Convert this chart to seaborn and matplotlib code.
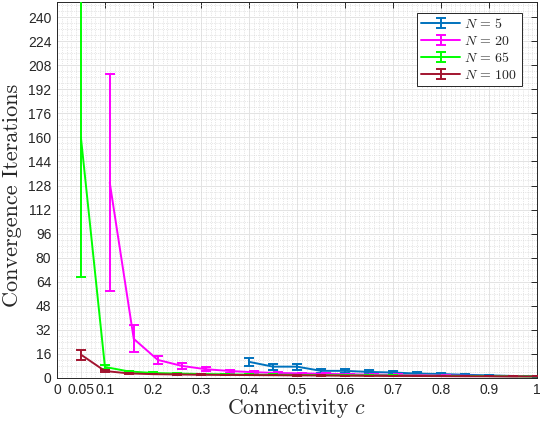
import numpy as np
import pandas as pd
import matplotlib
matplotlib.use("Agg")
import matplotlib.pyplot as plt
import seaborn as sns
from matplotlib.ticker import MultipleLocator
from matplotlib.container import ErrorbarContainer
from matplotlib.legend_handler import HandlerErrorbar

# connectivity values per network size
c5 = [0.40, 0.45, 0.50, 0.55, 0.60, 0.65, 0.70, 0.75, 0.80, 0.85, 0.90, 0.95, 1.00]
c20 = [0.11, 0.16, 0.21, 0.26, 0.31, 0.36, 0.41, 0.46, 0.51, 0.56, 0.61, 0.66,
       0.71, 0.76, 0.81, 0.86, 0.91, 0.96]
c65 = [0.05, 0.10, 0.15, 0.20, 0.25, 0.30, 0.35, 0.40, 0.45, 0.50, 0.55, 0.60,
       0.65, 0.70, 0.75, 0.80, 0.85, 0.90, 0.95, 1.00]
c100 = list(c65)

# mean convergence iterations and error half-widths
mean5 = [10.7, 7.5, 7.5, 4.7, 4.7, 4.0, 3.6, 2.9, 2.6, 2.1, 1.7, 1.3, 1.0]
err5 = [2.8, 2.0, 2.0, 1.4, 1.4, 1.0, 1.0, 0.8, 0.7, 0.6, 0.5, 0.3, 0.1]

mean20 = [130, 26, 12, 8.0, 5.8, 4.6, 3.8, 3.3, 3.0, 2.7, 2.4, 2.2, 2.0, 1.8,
          1.6, 1.4, 1.2, 1.1]
err20 = [72, 9, 2.7, 2.0, 1.3, 1.0, 0.8, 0.6, 0.5, 0.5, 0.4, 0.4, 0.3, 0.3,
         0.3, 0.2, 0.2, 0.1]

mean65 = [160, 7.3, 4.3, 3.3, 2.9, 2.6, 2.4, 2.2, 2.1, 2.0, 1.9, 1.8, 1.7, 1.6,
          1.5, 1.4, 1.3, 1.2, 1.1, 1.0]
err65 = [93, 1.6, 0.6, 0.4, 0.3, 0.3, 0.3, 0.2, 0.2, 0.2, 0.2, 0.2, 0.2, 0.1,
         0.1, 0.1, 0.1, 0.1, 0.1, 0.0]

mean100 = [15.5, 4.6, 3.0, 2.5, 2.3, 2.1, 2.0, 1.9, 1.8, 1.7, 1.6, 1.5, 1.4,
           1.3, 1.3, 1.2, 1.1, 1.1, 1.0, 1.0]
err100 = [3.3, 0.6, 0.3, 0.2, 0.2, 0.2, 0.2, 0.1, 0.1, 0.1, 0.1, 0.1, 0.1,
          0.1, 0.1, 0.1, 0.1, 0.0, 0.0, 0.0]

labels = ["$N\\,=\\,5$", "$N\\,=\\,20$", "$N\\,=\\,65$", "$N\\,=\\,100$"]
colors = ["#0072BD", "#FF00FF", "#00FF00", "#A2142F"]

xticks = [0, 0.05, 0.1, 0.2, 0.3, 0.4, 0.5, 0.6, 0.7, 0.8, 0.9, 1]
xticklabels = ["0", "0.05", "0.1", "0.2", "0.3", "0.4", "0.5", "0.6", "0.7",
               "0.8", "0.9", "1"]
yticks = list(range(0, 241, 16))

series = [(c5, mean5, err5), (c20, mean20, err20),
          (c65, mean65, err65), (c100, mean100, err100)]
df = pd.concat([pd.DataFrame({"c": c, "iters": m, "err": e, "N": lab})
                for (c, m, e), lab in zip(series, labels)], ignore_index=True)

sns.set_theme(style="white")
plt.rcParams["font.family"] = ["Liberation Sans", "DejaVu Sans"]
plt.rcParams["mathtext.fontset"] = "cm"

fig = plt.figure(figsize=(5.42, 4.28), dpi=100)
ax = fig.add_axes([0.105, 0.117, 0.886, 0.878])

sns.lineplot(data=df, x="c", y="iters", hue="N", palette=colors,
             hue_order=labels, linewidth=1.4, legend=False, ax=ax,
             errorbar=None, sort=False)
for i, ln in enumerate(ax.lines[:4]):
    ln.set_zorder(2 + i)

handles = []
for i, lab in enumerate(labels):
    sub = df[df["N"] == lab]
    ax.errorbar(sub["c"], sub["iters"], yerr=sub["err"], fmt="none",
                ecolor=colors[i], elinewidth=1.4, capsize=3.5,
                capthick=1.4, zorder=2 + i)
    # proxy handle for the legend (line with error bar)
    h = ax.errorbar([np.nan], [np.nan], yerr=[np.nan], fmt="-",
                    color=colors[i], linewidth=1.4, elinewidth=1.4,
                    capsize=3.5, capthick=1.4)
    handles.append(h)

ax.set_xlim(0, 1)
ax.set_ylim(0, 250)
ax.set_xticks(xticks)
ax.set_xticklabels(xticklabels)
ax.set_yticks(yticks)
ax.xaxis.set_minor_locator(MultipleLocator(0.01))
ax.yaxis.set_minor_locator(MultipleLocator(4))
ax.tick_params(which="both", direction="in", top=True, right=True,
               labelsize=10, colors="#262626", pad=4)
ax.tick_params(which="major", length=4, width=0.7)
ax.tick_params(which="minor", length=0)
ax.grid(which="major", color="#e3e3e3", linewidth=0.7)
ax.grid(which="minor", color="#d0d0d0", linewidth=0.5, linestyle=":")
ax.set_axisbelow(True)
for sp in ax.spines.values():
    sp.set_color("#262626")
    sp.set_linewidth(0.7)

ax.set_xlabel("Connectivity $c$", fontfamily="cmr10", fontsize=15.5,
              labelpad=0)
ax.set_ylabel("Convergence Iterations", fontfamily="cmr10", fontsize=16)
ax.yaxis.set_label_coords(-0.073, 0.485)

leg = ax.legend(handles, labels, loc="upper right", fontsize=10,
                handler_map={ErrorbarContainer: HandlerErrorbar(yerr_size=0.35)},
                frameon=True, fancybox=False, edgecolor="#262626",
                framealpha=1, handlelength=2.8, borderpad=0.3,
                labelspacing=0.22, handletextpad=0.3,
                bbox_to_anchor=(0.982, 0.99))
leg.get_frame().set_linewidth(0.7)

fig.savefig("out.png", dpi=100)
